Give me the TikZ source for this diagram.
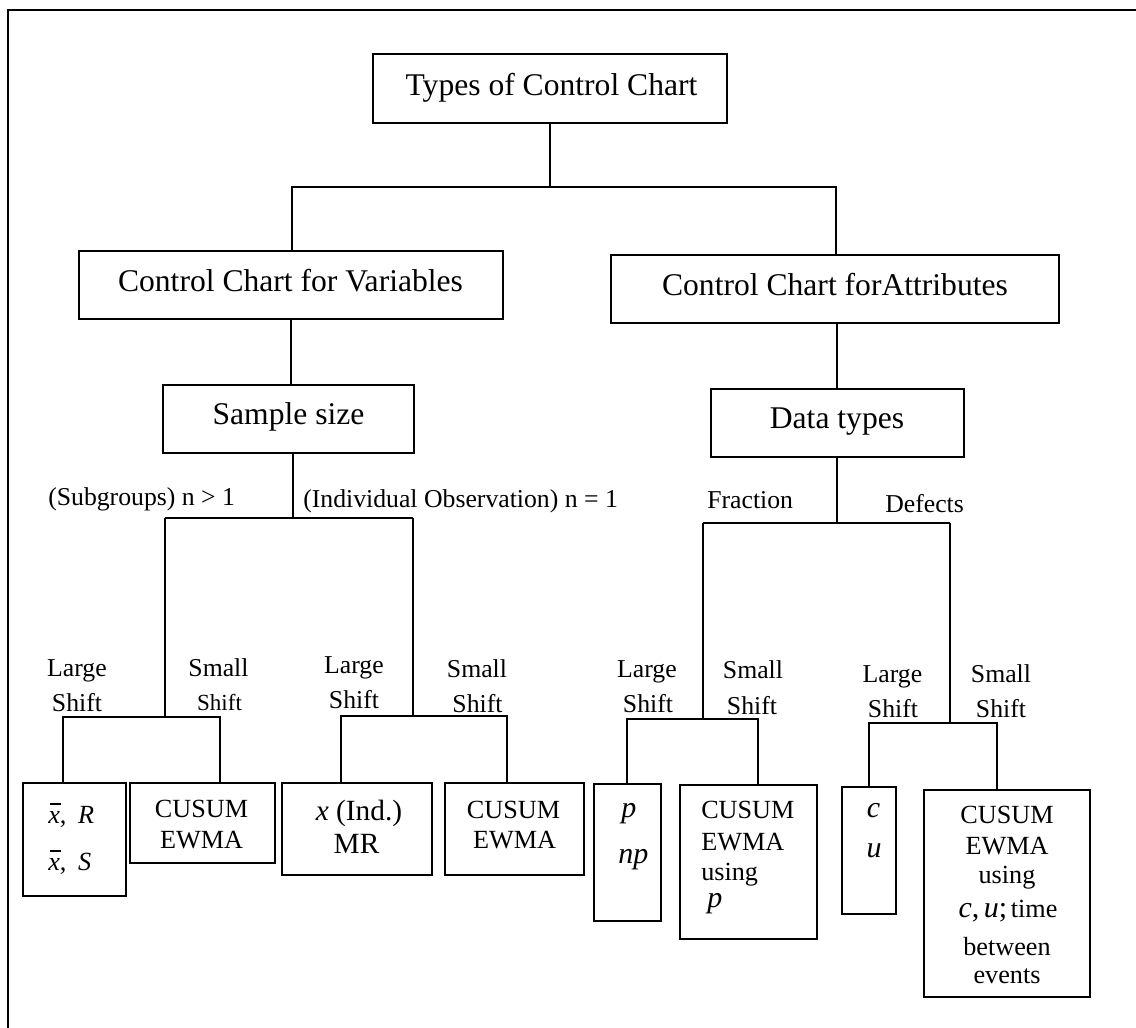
\documentclass[tikz,border=0pt]{standalone}
\usepackage{fontspec}
\setmainfont{Liberation Serif}
\usetikzlibrary{fit}
\newcommand\fbig{\fontsize{23.7pt}{28pt}\selectfont}
\newcommand\flab{\fontsize{19.3pt}{23pt}\selectfont}
\newcommand\flabs{\fontsize{17.3pt}{21pt}\selectfont}
\newcommand\fleaf{\fontsize{19.65pt}{23pt}\selectfont}
\newcommand\fmath{\fontsize{22.5pt}{26pt}\selectfont}
\newcommand\fInd{\fontsize{22pt}{26pt}\selectfont}
\newcommand\xbar{\rlap{\hspace{0.06em}\rule[0.7em]{0.42em}{0.055em}}\textit{x}}
\tikzset{
  box/.style={draw, line width=1.2pt, inner sep=0pt},
  conn/.style={line width=0.8pt},
  big/.style={anchor=base, inner sep=0pt, font=\fbig},
  lab/.style={anchor=base, inner sep=0pt, font=\flab},
  leaf/.style={anchor=base, inner sep=0pt, font=\fleaf},
  mth/.style={anchor=base, inner sep=0pt, font=\fmath},
}
\begin{document}
\begin{tikzpicture}[x=0.75pt,y=-0.75pt]
\useasboundingbox (0,0) rectangle (1136,1028);
% frame
\draw[line width=1.3pt] (8,1028) -- (8,10) -- (1136,10);

% boxes
\node[box, fit={(373,54) (727,123)}] (T) {};
\node[box, fit={(79,251) (503,319)}] (V) {};
\node[box, fit={(611,255) (1059,323)}] (A) {};
\node[box, fit={(163,385) (414,453)}] (S) {};
\node[box, fit={(711,389) (964,457)}] (D) {};
\node[box, fit={(23,783) (126,896)}] (bA) {};
\node[box, fit={(130,783) (275,863)}] (bB) {};
\node[box, fit={(282,783) (432,875)}] (bC) {};
\node[box, fit={(445,783) (584,875)}] (bD) {};
\node[box, fit={(594,784) (661,921)}] (bE) {};
\node[box, fit={(680,785) (817,939)}] (bF) {};
\node[box, fit={(842,787) (896,914)}] (bG) {};
\node[box, fit={(924,790) (1090,997)}] (bH) {};

% main texts
\node[big] (tT) at (551.5,95) {Types of Control Chart};
\node[big] (tV) at (290.5,291) {Control Chart for Variables};
\node[big] (tA) at (835,295) {Control Chart forAttributes};
\node[big] (tS) at (288.5,424) {Sample size};
\node[big] (tD) at (837,428) {Data types};

% branch labels
\node[lab, anchor=base west] (lSub) at (48,505) {(Subgroups) n > 1};
\node[lab, anchor=base west] (lInd) at (303,507) {(Individual Observation) n = 1};
\node[lab, anchor=base west] (lFr) at (707,508) {Fraction};
\node[lab, anchor=base west] (lDe) at (885,512) {Defects};

\node[lab] (s1a) at (77,676) {Large};
\node[lab] (s1b) at (77,711) {Shift};
\node[lab] (s2a) at (218.5,676) {Small};
\node[lab, font=\flabs] (s2b) at (219.5,710) {Shift};
\node[lab] (s3a) at (354,673) {Large};
\node[lab] (s3b) at (354,708) {Shift};
\node[lab] (s4a) at (477,677) {Small};
\node[lab] (s4b) at (477.5,712) {Shift};
\node[lab] (s5a) at (647,677) {Large};
\node[lab] (s5b) at (648,712) {Shift};
\node[lab] (s6a) at (753,678) {Small};
\node[lab] (s6b) at (752,714) {Shift};
\node[lab] (s7a) at (892.5,682) {Large};
\node[lab] (s7b) at (893,717) {Shift};
\node[lab] (s8a) at (1001,682) {Small};
\node[lab] (s8b) at (1001,717) {Shift};

% leaf texts
\node[leaf, anchor=base west] (xa1) at (48,823) {\xbar,\hspace{0.45em}\textit{R}};
\node[leaf, anchor=base west] (xa2) at (48,870) {\xbar,\hspace{0.45em}\textit{S}};
\node[leaf] (xb1) at (201.5,817) {CUSUM};
\node[leaf] (xb2) at (201.5,848) {EWMA};
\node[leaf, font=\fInd] (xc1) at (359,820) {\textit{x} (Ind.)};
\node[leaf, font=\fInd] (xc2) at (356.5,853) {MR};
\node[leaf] (xd1) at (513.5,818) {CUSUM};
\node[leaf] (xd2) at (514.5,848) {EWMA};
\node[mth, anchor=base west] (xe1) at (621,817) {\textit{p}};
\node[mth, anchor=base west] (xe2) at (618,863) {\textit{np}};
\node[leaf, anchor=base west] (xf1) at (701,818) {CUSUM};
\node[leaf, anchor=base west] (xf2) at (701,850) {EWMA};
\node[leaf, anchor=base west] (xf3) at (701,880) {using};
\node[mth, anchor=base west] (xf4) at (707,907) {\textit{p}};
\node[mth] (xg1) at (873.5,817) {\textit{c}};
\node[mth] (xg2) at (874,857) {\textit{u}};
\node[leaf] (xh1) at (1007,823) {CUSUM};
\node[leaf] (xh2) at (1007,854) {EWMA};
\node[leaf] (xh3) at (1007,883) {using};
\node[mth] (xh4) at (1008,917) {\textit{c},\hspace{0.15em}\textit{u};\hspace{0.12em}{\fleaf time}};
\node[leaf] (xh5) at (1007,955) {between};
\node[leaf] (xh6) at (1007,983) {events};

% connectors: top level
\coordinate (b1L) at (292,187);
\coordinate (b1R) at (836,187);
\draw[conn] (T.south) -- (T.south |- b1L);
\draw[conn] (V.north -| b1L) -- (b1L) -- (b1R) -- (A.north -| b1R);
\draw[conn] (V.south) -- (V.south |- S.north);
\draw[conn] (A.south -| D.north) ++(-0.5,0) coordinate (aD) -- (aD |- D.north);

% sample size fork
\coordinate (s2) at (293,518);
\coordinate (b2L) at (165,518);
\coordinate (b2R) at (413,518);
\draw[conn] (S.south -| s2) -- (s2);
\draw[conn] (b2L) -- (b2R);
\coordinate (f1) at (165,717);
\coordinate (f1L) at (63,717);
\coordinate (f1R) at (220,717);
\draw[conn] (b2L) -- (f1);
\draw[conn] (bA.north -| f1L) -- (f1L) -- (f1R) -- (bB.north -| f1R);
\coordinate (f2) at (413,716);
\coordinate (f2L) at (341,716);
\coordinate (f2R) at (507,716);
\draw[conn] (b2R) -- (f2);
\draw[conn] (bC.north -| f2L) -- (f2L) -- (f2R) -- (bD.north -| f2R);

% data types fork
\coordinate (d2) at (837,523);
\coordinate (b3L) at (703,523);
\coordinate (b3R) at (950,523);
\draw[conn] (D.south -| d2) -- (d2);
\draw[conn] (b3L) -- (b3R);
\coordinate (f3) at (703,719);
\coordinate (f3L) at (627,719);
\coordinate (f3R) at (758,719);
\draw[conn] (b3L) -- (f3);
\draw[conn] (bE.north -| f3L) -- (f3L) -- (f3R) -- (bF.north -| f3R);
\coordinate (f4) at (950,723);
\coordinate (f4L) at (869,723);
\coordinate (f4R) at (997,723);
\draw[conn] (b3R) -- (f4);
\draw[conn] (bG.north -| f4L) -- (f4L) -- (f4R) -- (bH.north -| f4R);
\end{tikzpicture}
\end{document}
